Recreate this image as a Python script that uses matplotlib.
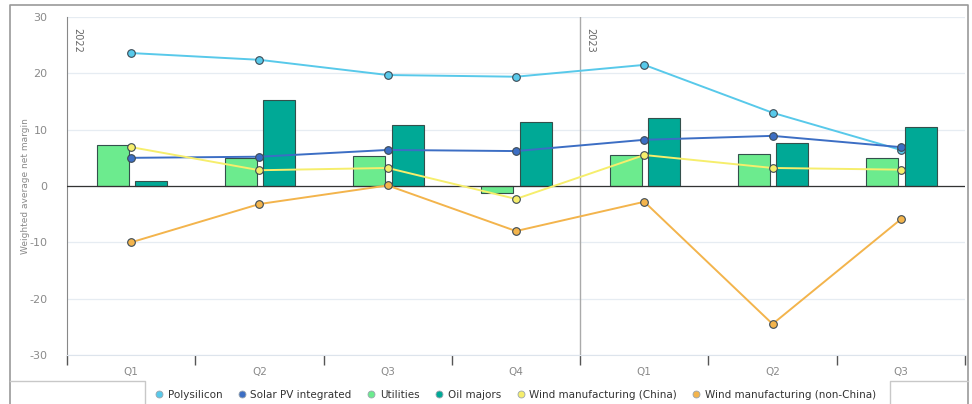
import matplotlib
matplotlib.use('Agg')
import matplotlib.pyplot as plt
from matplotlib.lines import Line2D
import numpy as np

plt.rcParams['axes.unicode_minus'] = False

quarters = ['Q1', 'Q2', 'Q3', 'Q4', 'Q1', 'Q2', 'Q3']
years = ['2022', '2023']
polysilicon = [23.6, 22.4, 19.7, 19.4, 21.5, 13.0, 6.4]
solar_pv = [5.0, 5.2, 6.4, 6.2, 8.2, 8.9, 6.9]
utilities = [7.3, 5.0, 5.3, -1.2, 5.5, 5.6, 4.9]
oil_majors = [0.9, 15.2, 10.9, 11.4, 12.1, 7.6, 10.5]
wind_china = [6.9, 2.8, 3.2, -2.3, 5.5, 3.2, 2.9]
wind_non_china = [-10.0, -3.2, 0.1, -8.0, -2.8, -24.5, -5.9]

C_POLY = '#58C9EA'; C_SOLAR = '#3C6EC4'; C_UTIL = '#6CEB8E'
C_OIL = '#00A996'; C_WCN = '#F6EE6C'; C_WNC = '#F3B44C'
EDGE = '#34504C'; GREY = '#8A8A8A'; GRID = '#E6ECF2'

fig = plt.figure(figsize=(9.72, 4.04), dpi=100, facecolor='white')

# ── outer frame lines (screenshot panel) ──────────────────────────────────
frame = fig.add_axes([0, 0, 1, 1])
frame.set_xlim(0, 972); frame.set_ylim(404, 0); frame.axis('off')
frame.plot([10, 10, 968, 968], [404, 5, 5, 404], color='#9A9A9A', lw=1.2)
frame.plot([10, 145, 145], [381, 381, 404], color='#C8C8C8', lw=1)
frame.plot([968, 890, 890], [381, 381, 404], color='#C8C8C8', lw=1)

# ── main chart ────────────────────────────────────────────────────────────
ax = fig.add_axes([67/972, 49/404, 898/972, 338/404])
x = np.arange(len(quarters))
w = 0.25
ax.bar(x - 0.145, utilities, w, color=C_UTIL, edgecolor=EDGE, linewidth=0.8, zorder=2)
ax.bar(x + 0.155, oil_majors, w, color=C_OIL, edgecolor=EDGE, linewidth=0.8, zorder=2)

series = [(polysilicon, C_POLY), (solar_pv, C_SOLAR),
          (wind_china, C_WCN), (wind_non_china, C_WNC)]
for vals, col in series:
    ax.plot(x, vals, color=col, lw=1.4, marker='o', ms=5.5,
            markerfacecolor=col, markeredgecolor='#3C4A55', markeredgewidth=0.8, zorder=4)

ax.axhline(0, color='#333333', lw=0.9, zorder=3)
ax.set_xlim(-0.5, len(quarters) - 0.5)
ax.set_ylim(-30, 30)
ax.set_yticks(np.arange(-30, 31, 10))
ax.yaxis.grid(True, color=GRID, lw=0.9, zorder=0)
ax.set_axisbelow(True)
ax.tick_params(axis='y', length=0, labelsize=8, labelcolor=GREY, pad=14)
ax.set_ylabel('Weighted average net margin', fontsize=6.5, color=GREY)
ax.yaxis.set_label_coords(-37/898, 0.5)

ax.set_xticks(np.arange(-0.5, len(quarters)))
ax.set_xticklabels([])
ax.tick_params(axis='x', length=7, width=1, color='#555555', direction='out')
ax.set_xticks(x, minor=True)
ax.set_xticklabels(quarters, minor=True)
ax.tick_params(axis='x', which='minor', length=0, labelsize=7.5, labelcolor=GREY, pad=9)

for s in ['top', 'right']:
    ax.spines[s].set_visible(False)
ax.spines['left'].set_color('#888888')
ax.spines['bottom'].set_color('#DDE4EC')

# year separator and labels
ax.axvline(3.5, color='#AAAAAA', lw=1, zorder=1)
for xp, yr in zip([-0.5, 3.5], years):
    ax.text(xp + 0.04, 28, yr, rotation=-90, fontsize=7, color='#666666',
            ha='left', va='top')

# legend
names = ['Polysilicon', 'Solar PV integrated', 'Utilities', 'Oil majors',
         'Wind manufacturing (China)', 'Wind manufacturing (non-China)']
cols = [C_POLY, C_SOLAR, C_UTIL, C_OIL, C_WCN, C_WNC]
handles = [Line2D([], [], ls='none', marker='o', ms=5, markerfacecolor=c,
                  markeredgecolor='#9AA5AE', markeredgewidth=0.6) for c in cols]
fig.legend(handles, names, loc='center', bbox_to_anchor=(515/972, 1 - 395/404),
           ncol=6, frameon=False, fontsize=7.5, handletextpad=0.3,
           columnspacing=1.4, labelcolor='#333333', handlelength=1.0)

fig.savefig('out.png', dpi=100, facecolor='white')
